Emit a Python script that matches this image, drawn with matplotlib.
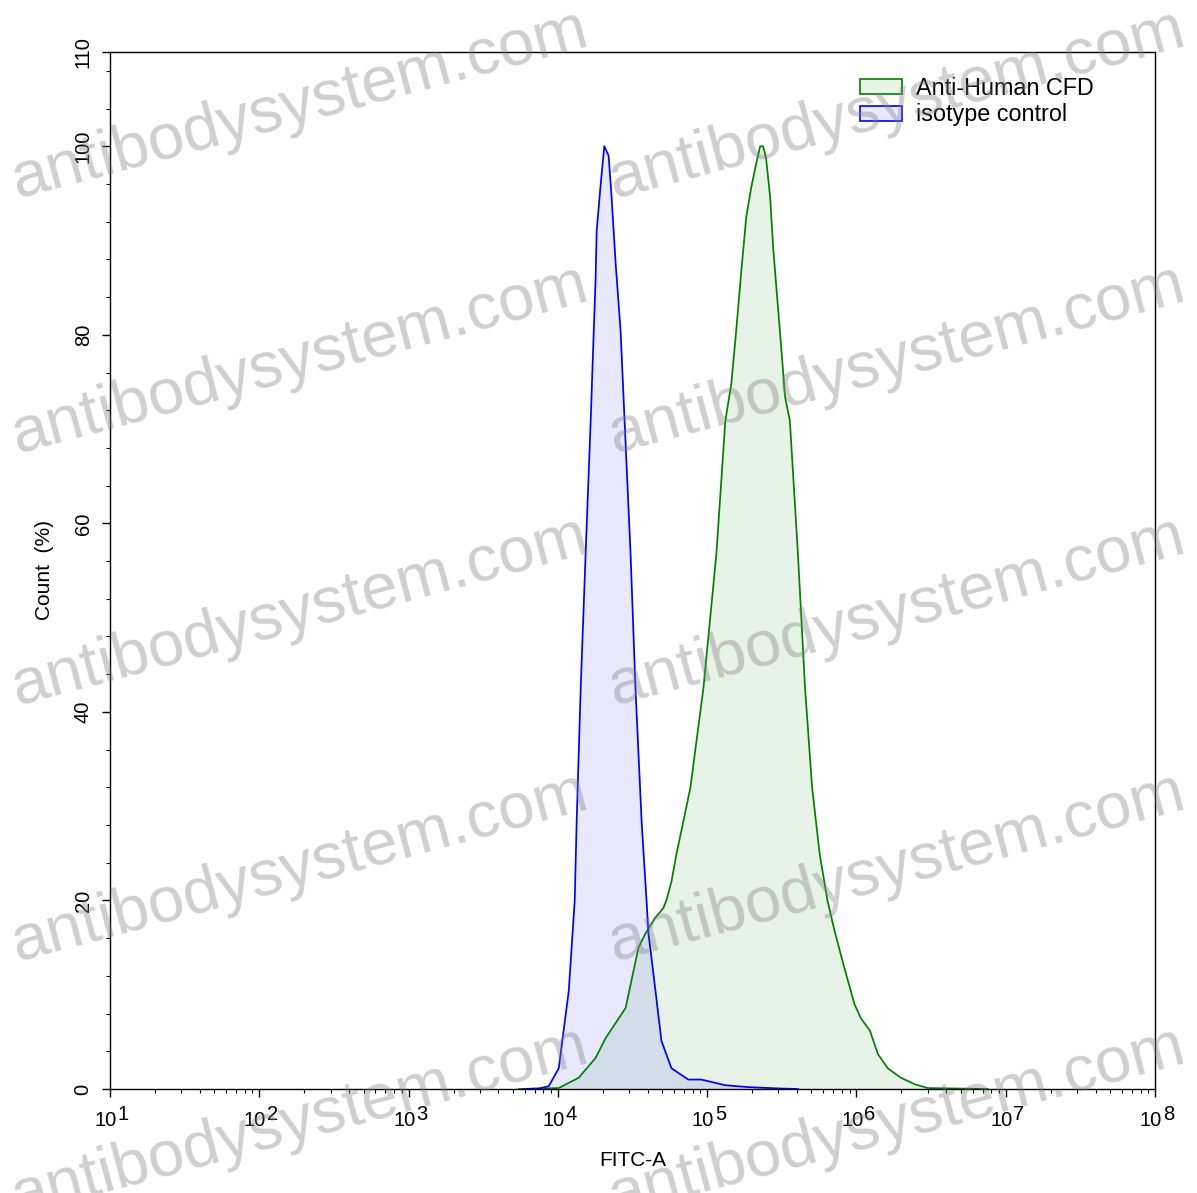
import numpy as np
import matplotlib.pyplot as plt
from matplotlib.patches import Patch

plt.rcParams['font.family'] = ['Liberation Sans', 'DejaVu Sans']

# isotype control, FITC-A given as log10 exponent, count in %
iso_log = [3.772, 3.872, 3.939, 4.006, 4.073, 4.113, 4.126, 4.153, 4.186, 4.220,
           4.233, 4.253, 4.260, 4.287, 4.311, 4.340, 4.360, 4.387, 4.420, 4.447,
           4.487, 4.520, 4.561, 4.594, 4.607, 4.654, 4.694, 4.761, 4.874, 4.961,
           5.122, 5.275, 5.496, 5.609]
iso_pct = [0.0, 0.05, 0.3, 2.2, 10.4, 20.0, 28.4, 42.5, 56.8, 70.9,
           77.0, 86.0, 91.0, 96.0, 100.0, 99.0, 94.6, 87.6, 80.5, 70.9,
           56.8, 42.5, 28.4, 20.0, 16.5, 10.4, 5.1, 2.2, 1.0, 1.0,
           0.4, 0.2, 0.05, 0.0]

# Anti-Human CFD
cfd_log = [3.739, 4.006, 4.140, 4.253, 4.320, 4.454, 4.540, 4.587, 4.654, 4.707,
           4.727, 4.761, 4.794, 4.841, 4.888, 4.975, 5.062, 5.122, 5.162, 5.195,
           5.229, 5.262, 5.295, 5.329, 5.355, 5.375, 5.395, 5.422, 5.442, 5.469,
           5.496, 5.522, 5.554, 5.608, 5.656, 5.703, 5.754, 5.806, 5.853, 5.920,
           5.987, 6.030, 6.090, 6.144, 6.210, 6.297, 6.391, 6.478, 6.678, 6.878]
cfd_pct = [0.0, 0.1, 1.2, 3.3, 5.4, 8.6, 15.0, 16.5, 18.2, 19.2,
           20.0, 22.0, 24.9, 28.4, 32.0, 42.5, 56.8, 70.9, 74.8, 80.5,
           86.8, 92.5, 95.6, 98.2, 100.0, 100.0, 98.7, 94.6, 89.3, 84.0,
           78.7, 73.4, 70.9, 56.8, 42.5, 32.0, 24.9, 20.0, 16.8, 12.8,
           9.0, 7.5, 6.2, 3.7, 2.2, 1.2, 0.5, 0.1, 0.05, 0.0]

decades = [1, 2, 3, 4, 5, 6, 7, 8]
yticks = [0, 20, 40, 60, 80, 100, 110]
labels = ['Anti-Human CFD', 'isotype control']

W, H = 1197, 1193
fig = plt.figure(figsize=(W / 100, H / 100), dpi=100)
ax = fig.add_axes([110 / W, 1 - 1089 / H, 1045 / W, 1037 / H])

cfd_x = 10 ** np.array(cfd_log)
iso_x = 10 ** np.array(iso_log)
ax.fill_between(cfd_x, cfd_pct, color='green', alpha=0.09, lw=0)
ax.plot(cfd_x, cfd_pct, color='green', lw=1.25)
ax.fill_between(iso_x, iso_pct, color='blue', alpha=0.09, lw=0)
ax.plot(iso_x, iso_pct, color='blue', lw=1.25)

ax.set_xscale('log')
ax.set_xlim(10 ** decades[0], 10 ** decades[-1])
ax.set_ylim(0, 110)
ax.set_yticks(yticks)
ax.set_yticks(np.arange(0, 111, 4), minor=True)
ax.set_xticks([10 ** k for k in decades])
ax.set_xticklabels([])
for s in ax.spines.values():
    s.set_linewidth(1.0)
ax.tick_params(axis='both', which='major', length=5.5, width=1.0, direction='out')
ax.tick_params(axis='both', which='minor', length=3, width=0.8, direction='out')
ax.tick_params(axis='y', labelsize=14.5, labelrotation=90, pad=7)
for lab in ax.get_yticklabels():
    lab.set_va('center')

# "10" + raised exponent, same size
for k in decades:
    ax.annotate('10', xy=(10 ** k, 0), xycoords=('data', 'axes fraction'),
                xytext=(5, -27), textcoords='offset points',
                ha='right', va='baseline', fontsize=14.5)
    ax.annotate(str(k), xy=(10 ** k, 0), xycoords=('data', 'axes fraction'),
                xytext=(5.5, -22.5), textcoords='offset points',
                ha='left', va='baseline', fontsize=14.5)

ax.set_xlabel('FITC-A', fontsize=15, labelpad=36)
ax.set_ylabel('Count  (%)', fontsize=15, labelpad=14)

handles = [Patch(facecolor=(0, 0.5, 0, 0.09), edgecolor='green', lw=1.2),
           Patch(facecolor=(0, 0, 1, 0.09), edgecolor='blue', lw=1.2)]
ax.legend(handles, labels, loc='upper left', bbox_to_anchor=(0.718, 0.976),
          frameon=False, fontsize=16.8, handlelength=1.8, handleheight=0.6,
          handletextpad=0.6, labelspacing=0.15, borderpad=0, borderaxespad=0)

# watermark
for cx in [300, 897]:
    for cy in [105, 360, 612, 868, 1122]:
        fig.text(cx / W, 1 - cy / H, 'antibodysystem.com', fontsize=47,
                 color='grey', alpha=0.38, rotation=15, rotation_mode='anchor',
                 ha='center', va='center')

fig.savefig('out.png', dpi=100)
